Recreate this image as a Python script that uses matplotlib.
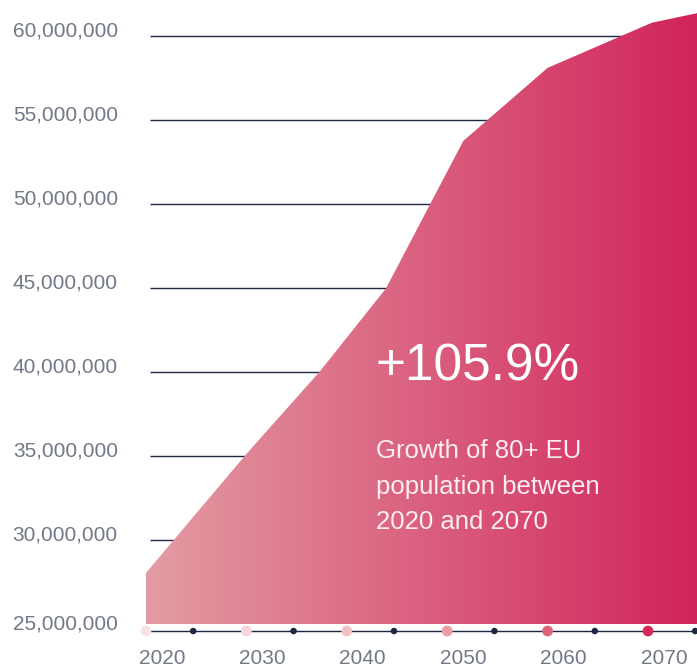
import numpy as np
import matplotlib.pyplot as plt
from matplotlib.colors import LinearSegmentedColormap
import matplotlib.transforms as mtransforms

# 80+ EU population projection
years = [2020, 2030, 2037.3, 2043.9, 2051.6, 2060, 2070.4, 2075]
population = [28.07e6, 35.15e6, 40.05e6, 45.0e6, 53.78e6, 58.13e6, 60.82e6, 61.4e6]

grid_values = [30e6, 35e6, 40e6, 45e6, 50e6, 55e6, 60e6]
ytick_values = [25e6, 30e6, 35e6, 40e6, 45e6, 50e6, 55e6, 60e6]
decade_years = [2020, 2030, 2040, 2050, 2060, 2070]
decade_colors = ["#f8e3e6", "#f6d6da", "#f1c1c6", "#ea9ba4", "#de6479", "#d42a5a"]
half_years = [2024.7, 2034.7, 2044.7, 2054.7, 2064.7, 2074.7]

headline = "+105.9%"
caption = "Growth of 80+ EU\npopulation between\n2020 and 2070"

plt.rcParams["font.family"] = ["Liberation Sans", "DejaVu Sans"]

fig = plt.figure(figsize=(6.97, 6.70), dpi=100)
ax = fig.add_axes([0, 0, 1, 1])
ax.axis("off")

navy = "#1e2642"

# gridlines behind the area
ax.hlines(grid_values, 2020.4, 2076, color=navy, lw=1.0, zorder=1)

# area with horizontal gradient
poly = ax.fill_between(years, population, 25e6, facecolor="none", edgecolor="none", zorder=2)
cmap = LinearSegmentedColormap.from_list("pinkgrad", ["#e39ca3", "#d1245a"])
grad = np.linspace(0, 1, 256).reshape(1, -1)
im = ax.imshow(grad, cmap=cmap, aspect="auto", extent=[2020, 2075, 25e6, 62.17e6],
               zorder=2, interpolation="bicubic")
im.set_clip_path(poly.get_paths()[0], transform=ax.transData)
ax.set_xlim(2005.46, 2074.88)
ax.set_ylim(22.29e6, 62.17e6)

# bottom timeline with dots
axis_y = 24.61e6
ax.plot([2020, 2076], [axis_y, axis_y], color=navy, lw=1.0, zorder=3, clip_on=False)
ax.scatter(decade_years, [axis_y] * len(decade_years), s=60, c=decade_colors, zorder=4,
           edgecolors="none", clip_on=False)
ax.scatter(half_years, [axis_y] * len(half_years), s=22, c=navy, zorder=4,
           edgecolors="none", clip_on=False)

# y labels
label_color = "#737888"
for v in ytick_values:
    off = 0 if v == 25e6 else 5
    t = mtransforms.offset_copy(ax.transData, fig=fig, x=0, y=off, units="dots")
    ax.text(2017.2, v, f"{int(v):,}", transform=t, ha="right", va="center",
            fontsize=15, color=label_color)

# x labels (shifted right of the dots)
for yr in decade_years:
    t = mtransforms.offset_copy(ax.transData, fig=fig, x=16, y=0, units="dots")
    ax.text(yr, 23.0e6, str(yr), transform=t, ha="center", va="center",
            fontsize=15, color=label_color)

# annotation
ax.text(2042.9, 40.35e6, headline, ha="left", va="center", fontsize=37, color="white", zorder=5)
ax.text(2042.9, 33.2e6, caption, ha="left", va="center", fontsize=18.5, color="#fdeef1",
        linespacing=1.62, zorder=5)

fig.savefig("out.png", dpi=100)
